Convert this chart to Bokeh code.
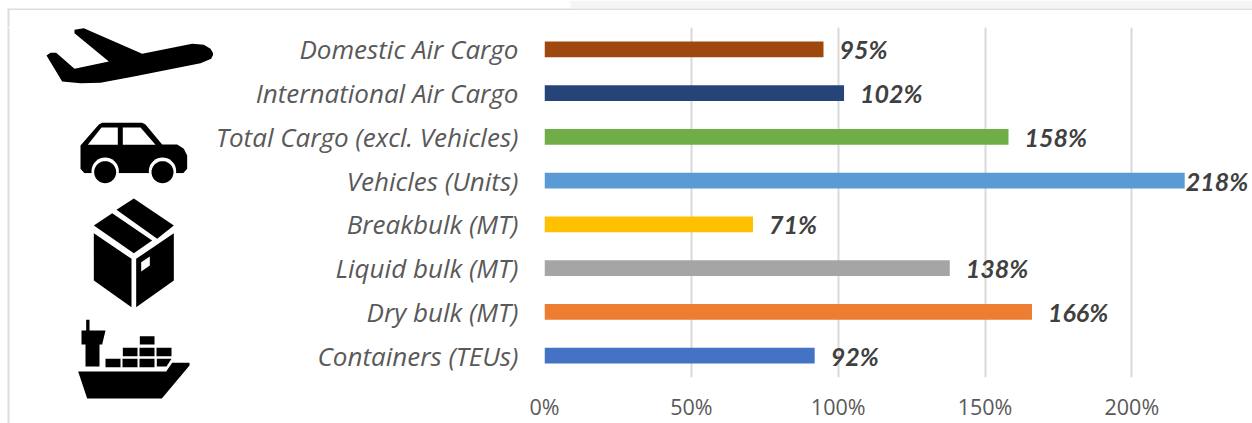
import math
from bokeh.core.properties import value
from bokeh.embed import file_html
from bokeh.layouts import column, row
from bokeh.models import ColumnDataSource, FactorRange, FixedTicker, LabelSet, Range1d
from bokeh.plotting import figure
from bokeh.resources import INLINE

categories = ["Containers (TEUs)", "Dry bulk (MT)", "Liquid bulk (MT)", "Breakbulk (MT)",
              "Vehicles (Units)", "Total Cargo (excl. Vehicles)", "International Air Cargo", "Domestic Air Cargo"]
values = [92, 166, 138, 71, 218, 158, 102, 95]
colors = ["#4472C4", "#ED7D31", "#A5A5A5", "#FFC000", "#5B9BD5", "#70AD47", "#264478", "#9E480E"]
ticks = [0, 50, 100, 150, 200]

W, H = 1252, 423
TOP_H = 27        # band above the plot
ICON_W = 213      # icon column width
plot_left = 329   # room for the category labels
px_per_pct = 147.25 / 50
TEXT_FONT = "Open Sans"


def bare(fig):
    fig.axis.visible = False
    fig.grid.visible = False
    return fig


# --- band on top of the page -------------------------------------------------
top_fig = bare(figure(width=W, height=TOP_H, output_backend="svg", toolbar_location=None,
                      x_range=Range1d(0, W), y_range=Range1d(TOP_H, 0),
                      min_border=0, outline_line_color=None))
top_fig.quad(left=[570], right=[W], top=[0], bottom=[8], fill_color="#F5F5F5", line_color=None)
top_fig.quad(left=[7], right=[W], top=[8], bottom=[9.5], fill_color="#DDDDDD", line_color=None)
top_fig.quad(left=[7], right=[9], top=[8], bottom=[TOP_H], fill_color="#DDDDDD", line_color=None)

# --- icons -------------------------------------------------------------------
icons = bare(figure(width=ICON_W, height=H - TOP_H, output_backend="svg", toolbar_location=None,
                    x_range=Range1d(0, ICON_W), y_range=Range1d(H, TOP_H),
                    min_border_left=0, min_border_right=0, min_border_top=0, min_border_bottom=0,
                    outline_line_color=None, frame_align=False))
icons.quad(left=[7], right=[9], top=[TOP_H], bottom=[H], fill_color="#DDDDDD", line_color=None)


def poly(pts, color="black"):
    icons.patch([a for a, _ in pts], [b for _, b in pts], fill_color=color, line_color=None)


def z1(pts):
    return [(a / 3, b / 3) for a, b in pts]


def z2(pts):
    return [(a / 3, b / 3 + 190) for a, b in pts]


def circle(cx, cy, r):
    return [(cx + r * math.cos(i * math.pi / 18), cy + r * math.sin(i * math.pi / 18)) for i in range(36)]


# plane
poly(z1([(138, 165), (150, 157), (167, 157), (222, 205), (325, 183), (222, 98), (222, 88), (250, 83),
         (425, 160), (575, 130), (610, 133), (630, 145), (639, 160), (632, 175), (600, 188), (400, 228),
         (300, 247), (240, 248), (185, 243)]))

# car
poly(z1([(240, 435), (295, 372), (305, 367), (425, 367), (435, 372), (485, 432), (530, 432), (550, 445),
         (560, 465), (560, 505), (548, 518), (252, 518), (240, 505)]))
poly(z1([(262, 433), (303, 381), (352, 381), (352, 433)]), "white")
poly(z1([(367, 381), (420, 381), (465, 433), (367, 433)]), "white")
for cx in (314, 486):
    poly(z1(circle(cx, 512, 41)), "white")
poly(z1([(240, 518), (560, 518), (560, 560), (240, 560)]), "white")
for cx in (314, 486):
    poly(z1(circle(cx, 515, 33)))

# box
poly(z2([(280, 105), (335, 68), (455, 150), (400, 188)]))
poly(z2([(400, 24), (520, 105), (470, 145), (348, 58)]))
poly(z2([(280, 128), (393, 205), (393, 350), (280, 270)]))
poly(z2([(407, 205), (520, 128), (520, 270), (407, 350)]))
poly(z2([(422, 215), (448, 198), (448, 225), (422, 243)]), "white")

# ship
poly(z2([(233, 543), (497, 543), (515, 517), (567, 517), (567, 525), (484, 624), (260, 624)]))
poly(z2([(257, 388), (267, 388), (267, 420), (315, 420), (305, 462), (297, 462), (297, 528), (255, 528),
         (255, 462), (243, 462), (243, 420), (257, 420)]))
for (x0, x1, y0, y1) in [(315, 360, 505, 530), (366, 411, 505, 530), (417, 462, 505, 530),
                         (367, 411, 472, 497), (417, 462, 472, 497), (468, 513, 472, 497),
                         (418, 462, 437, 462)]:
    poly(z2([(x0, y0), (x1, y0), (x1, y1), (x0, y1)]))
poly(z2([(469, 505), (513, 505), (498, 528), (469, 528)]))

# --- chart -------------------------------------------------------------------
p = figure(width=W - ICON_W, height=H - TOP_H, output_backend="svg", toolbar_location=None,
           x_range=Range1d(0, (W - ICON_W - plot_left) / px_per_pct),
           y_range=FactorRange(factors=categories, range_padding=0, factor_padding=0),
           min_border_left=plot_left, min_border_right=0, min_border_top=0, min_border_bottom=44,
           outline_line_color=None, background_fill_color="white", border_fill_color="white",
           frame_align=False)

p.xaxis.ticker = FixedTicker(ticks=ticks)
p.xaxis.major_label_overrides = {t: f"{t}%" for t in ticks}
p.xaxis.axis_line_color = None
p.xaxis.major_tick_line_color = None
p.xaxis.minor_tick_line_color = None
p.xaxis.major_tick_out = 0
p.xaxis.major_tick_in = 0
p.xaxis.minor_tick_out = 0
p.xaxis.minor_tick_in = 0
p.xaxis.major_label_text_font = TEXT_FONT
p.xaxis.major_label_text_font_size = "21.5px"
p.xaxis.major_label_text_color = "#595959"
p.xaxis.major_label_standoff = 14

p.yaxis.axis_line_color = None
p.yaxis.major_tick_line_color = None
p.yaxis.minor_tick_line_color = None
p.yaxis.major_tick_out = 0
p.yaxis.major_tick_in = 0
p.yaxis.major_label_text_font = TEXT_FONT
p.yaxis.major_label_text_font_size = "26px"
p.yaxis.major_label_text_font_style = "italic"
p.yaxis.major_label_text_color = "#595959"
p.yaxis.major_label_standoff = 26

p.ygrid.grid_line_color = None
p.xgrid.grid_line_color = "#D9D9D9"
p.xgrid.grid_line_width = 2

label_offsets = [1 if v > 200 else 16 for v in values]
source = ColumnDataSource(dict(cat=categories, val=values, col=colors,
                               txt=[f"{v}%" for v in values], off=label_offsets))
p.hbar(y="cat", right="val", left=0, height=16 / 44, fill_color="col", line_color=None, source=source)
p.add_layout(LabelSet(x="val", y="cat", text="txt", x_offset="off", source=source,
                      text_font=value("Lato"), text_font_size="25px", text_font_style="bold italic",
                      text_color="#404040", text_baseline="middle", text_align="left"))

inner = row(icons, p, spacing=0, width=W, height=H - TOP_H)
page = column(top_fig, inner, spacing=0, width=W, height=H,
              styles={"position": "absolute", "left": "0px", "top": "0px"})
open("out.html", "w").write(file_html(page, INLINE))
